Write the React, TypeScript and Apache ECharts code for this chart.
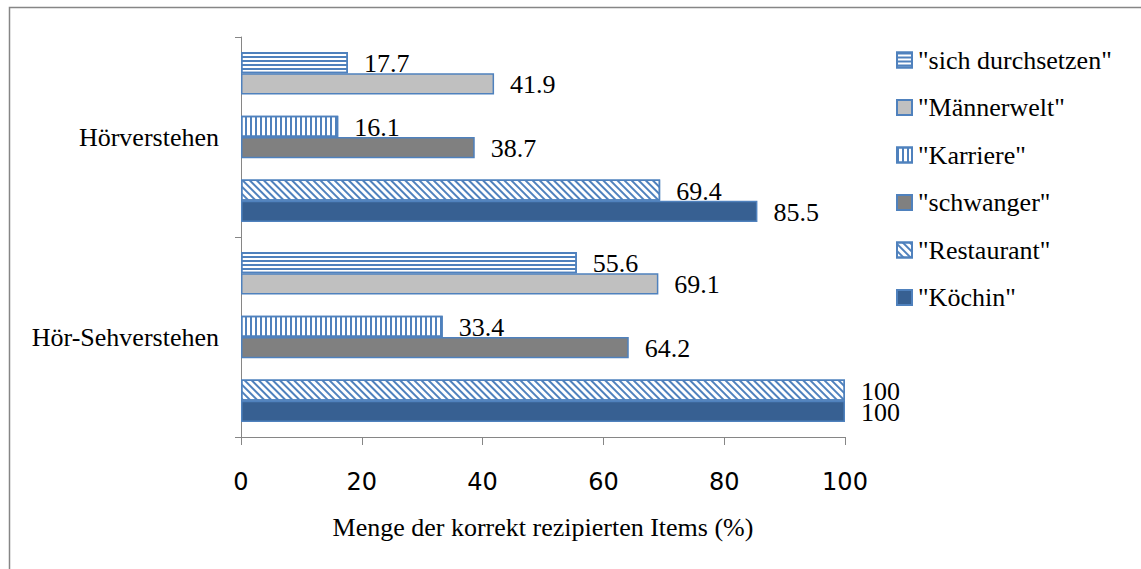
import React, { useEffect, useRef } from "react";
import * as echarts from "echarts";

const categories = ["Hör-Sehverstehen", "Hörverstehen"];
const sichDurchsetzen = [55.6, 17.7];
const maennerwelt = [69.1, 41.9];
const karriere = [33.4, 16.1];
const schwanger = [64.2, 38.7];
const restaurant = [100, 69.4];
const koechin = [100, 85.5];
const xTicks = { min: 0, max: 100, interval: 20 };
const xTitle = "Menge der korrekt rezipierten Items (%)";
const legendOrder = ['"sich durchsetzen"', '"Männerwelt"', '"Karriere"', '"schwanger"', '"Restaurant"', '"Köchin"'];

const BLUE = "#4F81BD";
const SERIF = "'Liberation Serif', 'Times New Roman', serif";
const SANS = "'DejaVu Sans', sans-serif";

export default function App() {
  const ref = useRef<HTMLDivElement>(null);
  useEffect(() => {
    const chart = echarts.init(ref.current!, null, { renderer: "svg" });
    const label = {
      show: true,
      position: "right",
      distance: 16,
      offset: [0, 1],
      fontFamily: SERIF,
      fontSize: 26,
      color: "#000",
    };
    const bar = (name: string, data: number[], itemStyle: any) => ({
      type: "bar",
      name,
      data,
      barGap: "0%",
      barCategoryGap: "15%",
      label,
      itemStyle: { borderColor: BLUE, borderWidth: 1.5, ...itemStyle },
    });
    const spacer = (name: string) => ({
      type: "bar",
      name,
      data: [],
      barGap: "0%",
      barCategoryGap: "15%",
    });
    chart.setOption({
      animation: false,
      backgroundColor: "#fff",
      grid: { left: 241, right: 296, top: 37, bottom: 132 },
      legend: {
        orient: "vertical",
        left: 891,
        top: 42,
        data: legendOrder,
        icon: "rect",
        itemWidth: 15,
        itemHeight: 15,
        itemGap: 21.5,
        textStyle: { fontFamily: SERIF, fontSize: 26, color: "#000", padding: [0, 0, 0, 1] },
      },
      xAxis: {
        type: "value",
        ...xTicks,
        name: xTitle,
        nameLocation: "middle",
        nameGap: 77,
        nameTextStyle: { fontFamily: SERIF, fontSize: 26, color: "#000" },
        axisLine: { show: true, lineStyle: { color: "#868686", width: 1 } },
        axisTick: { show: true, length: 8, lineStyle: { color: "#868686" } },
        splitLine: { show: false },
        axisLabel: { fontFamily: SANS, fontSize: 24, color: "#000", margin: 33 },
      },
      yAxis: {
        type: "category",
        data: categories,
        axisLine: { show: true, lineStyle: { color: "#868686", width: 1 } },
        axisTick: { show: true, length: 6, lineStyle: { color: "#868686" } },
        axisLabel: { fontFamily: SERIF, fontSize: 26, color: "#000", margin: 22 },
      },
      graphic: [
        {
          type: "rect",
          shape: { x: 9.5, y: 7.5, width: 1300, height: 700 },
          style: { fill: "none", stroke: "#868686", lineWidth: 1.5 },
          silent: true,
        },
      ],
      series: [
        bar(legendOrder[0], sichDurchsetzen, {
          color: "#fff",
          decal: { symbol: "rect", symbolSize: 1, dashArrayX: [1, 0], dashArrayY: [2, 2], color: BLUE },
        }),
        bar(legendOrder[1], maennerwelt, { color: "#C0C0C0" }),
        spacer("gap1"),
        bar(legendOrder[2], karriere, {
          color: "#fff",
          decal: { symbol: "rect", symbolSize: 1, dashArrayX: [2, 3], dashArrayY: [1, 0], color: BLUE },
        }),
        bar(legendOrder[3], schwanger, { color: "#808080" }),
        spacer("gap2"),
        bar(legendOrder[4], restaurant, {
          color: "#fff",
          decal: { symbol: "rect", symbolSize: 1, dashArrayX: [1, 0], dashArrayY: [2, 3], rotation: Math.PI / 4, color: BLUE },
        }),
        bar(legendOrder[5], koechin, { color: "#376092" }),
      ],
    });
    return () => chart.dispose();
  }, []);
  return (
    <div
      ref={ref}
      style={{ position: "fixed", left: 0, top: 0, width: 1141, height: 569 }}
    />
  );
}
